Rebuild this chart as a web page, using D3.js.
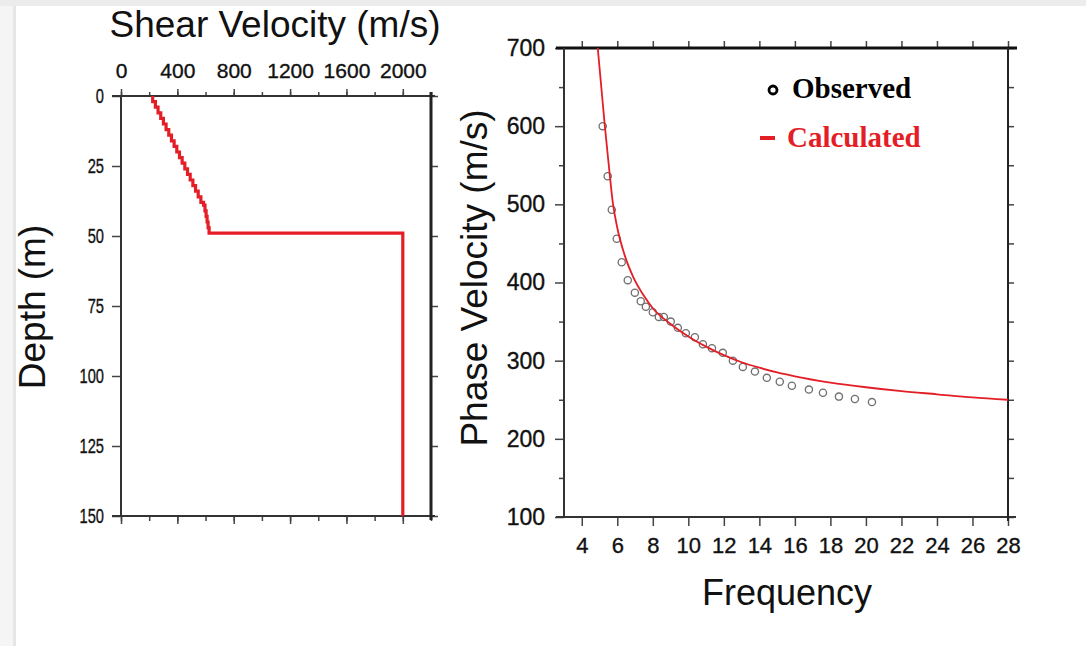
<!DOCTYPE html>
<html>
<head>
<meta charset="utf-8">
<script src="https://cdn.jsdelivr.net/npm/d3@7"></script>
<style>
  html, body { margin: 0; padding: 0; background: #fff; }
  svg { display: block; font-family: "Liberation Sans", Arial, sans-serif; }
</style>
</head>
<body>
<svg id="chart" width="1086" height="646"></svg>
<script>
// shear velocity profile (layer top depth in m, velocity in m/s)
var layerDepth = [0, 2, 4, 6, 8, 10, 12, 14, 16, 18, 20, 22, 24, 26, 28, 30, 32, 34, 36, 38, 39, 41, 43, 45, 47, 49, 150];
var layerVs    = [225, 244, 263, 282, 301, 320, 339, 358, 377, 396, 415, 434, 453, 472, 491, 510, 529, 548, 567, 586, 596, 604, 611, 618, 625, 2000, 2000];

// dispersion curve, observed points
var obsFreq = [5.18, 5.46, 5.69, 5.97, 6.25, 6.59, 6.99, 7.32, 7.61, 8.0, 8.34, 8.62, 9.01, 9.41, 9.86, 10.37, 10.82, 11.33, 11.94, 12.51, 13.07, 13.75, 14.42, 15.15, 15.83, 16.79, 17.58, 18.48, 19.38, 20.34];
var obsVel  = [600, 536, 493, 456, 426, 403, 387, 376, 369, 362, 356, 356, 350, 342, 335, 330, 321, 316, 310, 300, 292, 286, 278, 273, 268, 263, 259, 254, 251, 247];

// calculated curve
var calFreq = [4.9, 5.1, 5.3, 5.5, 5.75, 6.0, 6.4, 6.9, 7.5, 8.0, 9.0, 10, 11, 12, 13, 14, 15, 16, 18, 20, 22, 24, 26, 28];
var calVel  = [700, 650, 600, 555, 502, 470, 436, 407, 383, 367, 347, 331, 318, 307, 298, 291, 285, 280, 272, 266, 261, 257, 253, 250];

var vsTicks = [0, 400, 800, 1200, 1600, 2000];
var depthTicks = [0, 25, 50, 75, 100, 125, 150];
var freqTicks = [4, 6, 8, 10, 12, 14, 16, 18, 20, 22, 24, 26, 28];
var velTicks = [100, 200, 300, 400, 500, 600, 700];

var svg = d3.select("#chart");
var red = "#e41e26";
var sans = "'Liberation Sans', Arial, sans-serif";

// light page border like the screenshot
svg.append("rect").attr("x", 0).attr("y", 0).attr("width", 1086).attr("height", 646).attr("fill", "#fff");
svg.append("rect").attr("x", 0).attr("y", 0).attr("width", 13).attr("height", 646).attr("fill", "#f5f5f5");
svg.append("rect").attr("x", 13).attr("y", 0).attr("width", 3).attr("height", 646).attr("fill", "#e6e6e6");
svg.append("rect").attr("x", 0).attr("y", 0).attr("width", 1086).attr("height", 6).attr("fill", "#ececec");

function styleLabels(size){
  return function(g){
    g.select(".domain").remove();
    g.attr("font-family", sans);
    g.selectAll("text").attr("font-size", size).attr("fill", "#111")
      .attr("stroke", "#111").attr("stroke-width", 0.35);
  };
}
function noDomain(g){ g.select(".domain").remove(); }

/* ---------- left panel: Vs profile ---------- */
var L = {x0: 121, x1: 431, y0: 96, y1: 516};
var xVs = d3.scaleLinear().domain([0, 2200]).range([L.x0, L.x1]);
var yDep = d3.scaleLinear().domain([0, 150]).range([L.y0, L.y1]);

var gL = svg.append("g");

// top axis
gL.append("g").attr("transform", "translate(0," + L.y0 + ")")
  .call(d3.axisTop(xVs).tickValues(d3.range(0, 2201, 200)).tickSize(4).tickFormat(""))
  .call(noDomain);
gL.append("g").attr("transform", "translate(0," + L.y0 + ")")
  .call(d3.axisTop(xVs).tickValues(vsTicks).tickSize(7).tickPadding(11).tickFormat(d3.format("d")))
  .call(styleLabels(21));
// bottom ticks
gL.append("g").attr("transform", "translate(0," + L.y1 + ")")
  .call(d3.axisBottom(xVs).tickValues(d3.range(0, 2201, 200)).tickSize(5).tickFormat(""))
  .call(noDomain);
gL.append("g").attr("transform", "translate(0," + L.y1 + ")")
  .call(d3.axisBottom(xVs).tickValues(d3.range(0, 2201, 400)).tickSize(8).tickFormat(""))
  .call(noDomain);
// left axis (labels are narrow in the original figure)
gL.append("g").attr("transform", "translate(" + L.x0 + ",0)")
  .call(d3.axisLeft(yDep).tickValues(depthTicks).tickSize(9).tickPadding(8))
  .call(styleLabels(21))
  .call(function(g){
    g.selectAll("text").attr("x", 0).attr("transform", "translate(-17,0) scale(0.7,1)");
  });
// right ticks
gL.append("g").attr("transform", "translate(" + L.x1 + ",0)")
  .call(d3.axisRight(yDep).tickValues(depthTicks).tickSize(7).tickFormat(""))
  .call(noDomain);
gL.selectAll(".tick line").attr("stroke", "#444").attr("stroke-width", 1.5);

// frame
gL.append("line").attr("x1", L.x0 - 9).attr("x2", L.x1 + 4).attr("y1", L.y0).attr("y2", L.y0).attr("stroke", "#333").attr("stroke-width", 2);
gL.append("line").attr("x1", L.x0 - 9).attr("x2", L.x1 + 4).attr("y1", L.y1).attr("y2", L.y1).attr("stroke", "#333").attr("stroke-width", 2);
gL.append("line").attr("x1", L.x0).attr("x2", L.x0).attr("y1", L.y0).attr("y2", L.y1).attr("stroke", "#333").attr("stroke-width", 2);
gL.append("line").attr("x1", L.x1).attr("x2", L.x1).attr("y1", L.y0 - 4).attr("y2", L.y1 + 4).attr("stroke", "#222").attr("stroke-width", 3);

var profile = layerDepth.map(function(d, i){ return {d: d, v: layerVs[i]}; });
var profLine = d3.line()
  .x(function(p){ return xVs(p.v); })
  .y(function(p){ return yDep(p.d); })
  .curve(d3.curveStepBefore);
gL.append("path").datum(profile)
  .attr("d", profLine)
  .attr("fill", "none").attr("stroke", red).attr("stroke-width", 3.2);

gL.append("text").attr("x", 275).attr("y", 37).attr("text-anchor", "middle")
  .attr("font-size", 37).attr("fill", "#111").text("Shear Velocity (m/s)");
gL.append("text").attr("transform", "translate(45,307) rotate(-90)").attr("text-anchor", "middle")
  .attr("font-size", 37).attr("fill", "#111").text("Depth (m)");

/* ---------- right panel: dispersion ---------- */
var R = {x0: 564, x1: 1008, y0: 48, y1: 517};
var xF = d3.scaleLinear().domain([3, 28]).range([R.x0, R.x1]);
var yV = d3.scaleLinear().domain([100, 700]).range([R.y1, R.y0]);

var gR = svg.append("g");

gR.append("g").attr("transform", "translate(0," + R.y0 + ")")
  .call(d3.axisTop(xF).tickValues(freqTicks).tickSize(7).tickFormat(""))
  .call(noDomain);
gR.append("g").attr("transform", "translate(0," + R.y1 + ")")
  .call(d3.axisBottom(xF).tickValues(freqTicks).tickSize(9).tickPadding(11))
  .call(styleLabels(22));
gR.append("g").attr("transform", "translate(" + R.x0 + ",0)")
  .call(d3.axisLeft(yV).tickValues(d3.range(150, 700, 100)).tickSize(5).tickFormat(""))
  .call(noDomain);
gR.append("g").attr("transform", "translate(" + R.x0 + ",0)")
  .call(d3.axisLeft(yV).tickValues(velTicks).tickSize(9).tickPadding(10))
  .call(styleLabels(23));
gR.append("g").attr("transform", "translate(" + R.x1 + ",0)")
  .call(d3.axisRight(yV).tickValues(d3.range(100, 701, 50)).tickSize(6).tickFormat(""))
  .call(noDomain);
gR.selectAll(".tick line").attr("stroke", "#444").attr("stroke-width", 1.5);

gR.append("line").attr("x1", R.x0 - 8).attr("x2", R.x1 + 9).attr("y1", R.y0).attr("y2", R.y0).attr("stroke", "#111").attr("stroke-width", 3);
gR.append("line").attr("x1", R.x0 - 8).attr("x2", R.x1 + 8).attr("y1", R.y1).attr("y2", R.y1).attr("stroke", "#333").attr("stroke-width", 2);
gR.append("line").attr("x1", R.x0).attr("x2", R.x0).attr("y1", R.y0).attr("y2", R.y1).attr("stroke", "#333").attr("stroke-width", 2);
gR.append("line").attr("x1", R.x1).attr("x2", R.x1).attr("y1", R.y0).attr("y2", R.y1 + 4).attr("stroke", "#222").attr("stroke-width", 2);

svg.append("clipPath").attr("id", "clipR").append("rect")
  .attr("x", R.x0).attr("y", R.y0).attr("width", R.x1 - R.x0).attr("height", R.y1 - R.y0);

var calData = calFreq.map(function(f, i){ return {f: f, v: calVel[i]}; });
var calLine = d3.line()
  .x(function(p){ return xF(p.f); })
  .y(function(p){ return yV(p.v); })
  .curve(d3.curveMonotoneX);

var obsData = obsFreq.map(function(f, i){ return {f: f, v: obsVel[i]}; });
gR.append("g").selectAll("circle").data(obsData).enter().append("circle")
  .attr("cx", function(p){ return xF(p.f); })
  .attr("cy", function(p){ return yV(p.v); })
  .attr("r", 3.6)
  .attr("fill", "none").attr("stroke", "#6f6f6f").attr("stroke-width", 1.3);

gR.append("path").datum(calData)
  .attr("clip-path", "url(#clipR)")
  .attr("d", calLine)
  .attr("fill", "none").attr("stroke", red).attr("stroke-width", 1.8);

gR.append("text").attr("x", 787).attr("y", 605).attr("text-anchor", "middle")
  .attr("font-size", 36).attr("fill", "#111").text("Frequency");
gR.append("text").attr("transform", "translate(487,278) rotate(-90)").attr("text-anchor", "middle")
  .attr("font-size", 37).attr("fill", "#111").text("Phase Velocity (m/s)");

// legend
var lg = gR.append("g").attr("font-family", "'Liberation Serif', 'Times New Roman', serif").attr("font-weight", "bold");
lg.append("circle").attr("cx", 773).attr("cy", 90).attr("r", 4).attr("fill", "none").attr("stroke", "#000").attr("stroke-width", 2.8);
lg.append("text").attr("x", 792).attr("y", 98).attr("font-size", 29).attr("fill", "#000").text("Observed");
lg.append("line").attr("x1", 760).attr("x2", 775).attr("y1", 138).attr("y2", 138).attr("stroke", red).attr("stroke-width", 4);
lg.append("text").attr("x", 787).attr("y", 147).attr("font-size", 29).attr("fill", red).text("Calculated");
</script>
</body>
</html>
